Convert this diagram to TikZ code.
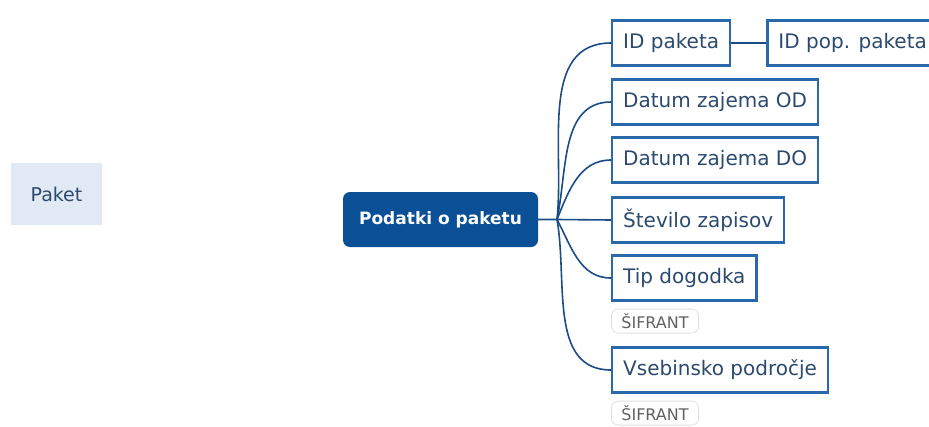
\documentclass[tikz,border=0pt]{standalone}
\usepackage{fontspec}
\setmainfont{DejaVu Sans}
\usepackage{xcolor}
\usetikzlibrary{positioning}
\definecolor{rootblue}{HTML}{0B5097}
\definecolor{boxblue}{HTML}{2A68AC}
\definecolor{linkblue}{HTML}{1A4C86}
\definecolor{txtblue}{HTML}{2C4A6E}
\definecolor{paleblue}{HTML}{E1EAF4}

\begin{document}
\begin{tikzpicture}[x=1pt, y=1pt,
    field/.style={draw=boxblue, line width=2.4pt, fill=white, minimum height=45pt, inner xsep=11pt, text=txtblue, font=\fontsize{20}{23}\selectfont},
    root/.style={fill=rootblue, rounded corners=7pt, minimum width=195pt, minimum height=55pt, text=white, font=\fontsize{17}{20}\selectfont\bfseries},
    tag/.style={draw=black!12, line width=0.8pt, rounded corners=7pt, minimum height=24pt, inner xsep=10pt, text=black!62, font=\fontsize{16}{19}\selectfont},
    link/.style={draw=linkblue, line width=1.6pt}]
	\useasboundingbox (0,0) rectangle (929,-426);
	\node[fill=paleblue, minimum width=91pt, minimum height=62pt, text=txtblue, font=\fontsize{19}{22}\selectfont] (paket) at (56.5,-194) {Paket};
	\node[root] (podatki) at (440.5,-219.5) {Podatki o paketu};
	\coordinate (hub) at (557,-219.5);
	\node[field, anchor=west] (idpak) at (611,-43) {ID paketa};
	\node[field, right=35pt of idpak] (idpop) {ID pop. paketa};
	\node[field, anchor=west] (datod) at (611,-102) {Datum zajema OD};
	\node[field, anchor=west] (datdo) at (611,-160) {Datum zajema DO};
	\node[field, anchor=west] (stev) at (611,-220) {Število zapisov};
	\node[field, anchor=west] (tip) at (611,-278) {Tip dogodka};
	\node[tag, below=7pt of tip.south west, anchor=north west] (sif1) {ŠIFRANT};
	\node[field, anchor=west] (vseb) at (611,-370) {Vsebinsko področje};
	\node[tag, below=7pt of vseb.south west, anchor=north west] (sif2) {ŠIFRANT};
	% connectors
	\draw[link] (podatki.east) -- (hub) -- (stev.west);
	\draw[link] (hub) to[out=84, in=180] (idpak.west);
	\draw[link] (hub) to[out=78, in=180] (datod.west);
	\draw[link] (hub) to[out=68, in=180] (datdo.west);
	\draw[link] (hub) to[out=-62, in=180] (tip.west);
	\draw[link] (hub) to[out=-80, in=180] (vseb.west);
	\draw[link] (idpak.east) -- (idpop.west);
\end{tikzpicture}
\end{document}
